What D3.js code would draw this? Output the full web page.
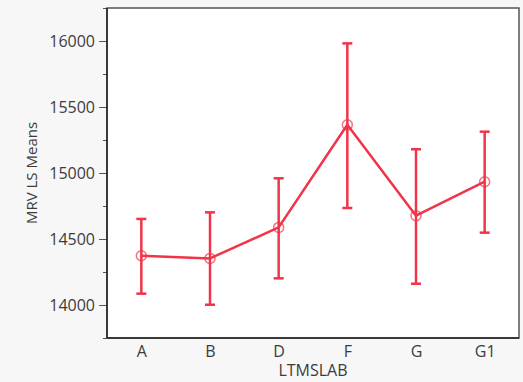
<!DOCTYPE html>
<html><head><meta charset="utf-8">
<script src="https://cdn.jsdelivr.net/npm/d3@7"></script>
<style>
html,body{margin:0;padding:0;background:#f7f7f7;}
svg{display:block;}
text{font-family:"Open Sans",sans-serif;fill:#3c3c3c;}
</style></head>
<body>
<svg id="chart" width="523" height="382"></svg>
<script>
const categories = ["A","B","D","F","G","G1"];
const means = [14373, 14353, 14588, 15365, 14677, 14934];
const upper = [14652, 14702, 14960, 15982, 15180, 15313];
const lower = [14086, 14002, 14202, 14735, 14161, 14548];
const majorTicks = [14000, 14500, 15000, 15500, 16000];
const minorTicks = [13750, 14250, 14750, 15250, 15750, 16250];

const svg = d3.select("#chart");
const L = 107, R = 519, T = 8, B = 338;
const red = "#f03449";

const x = d3.scalePoint().domain(categories).range([L, R]).padding(0.5);
const y = d3.scaleLinear().domain([13750, 16250]).range([B, T]);

svg.append("rect").attr("x", L).attr("y", T).attr("width", R - L).attr("height", B - T)
  .attr("fill", "#fff").attr("stroke", "#555").attr("stroke-width", 1.5);

// y axis
const yAxis = d3.axisLeft(y).tickValues(majorTicks).tickSize(8).tickPadding(4).tickFormat(d3.format("d"));
const gy = svg.append("g").attr("transform", `translate(${L},0)`).call(yAxis);
gy.select(".domain").remove();
gy.selectAll("line").attr("stroke", "#555");
gy.selectAll("text").style("font-size", "16px").attr("fill", "#3c3c3c");
const gym = svg.append("g").attr("transform", `translate(${L},0)`)
  .call(d3.axisLeft(y).tickValues(minorTicks).tickSize(4).tickFormat(""));
gym.select(".domain").remove();
gym.selectAll("line").attr("stroke", "#555");

// x axis
const gx = svg.append("g").attr("transform", `translate(0,${B})`)
  .call(d3.axisBottom(x).tickSize(0).tickPadding(8));
gx.select(".domain").remove();
gx.selectAll("text").style("font-size", "16px").attr("fill", "#3c3c3c");

// frame left/bottom darker
svg.append("line").attr("x1", L).attr("x2", L).attr("y1", T).attr("y2", B).attr("stroke", "#222").attr("stroke-width", 1.5);
svg.append("line").attr("x1", L).attr("x2", R).attr("y1", B).attr("y2", B).attr("stroke", "#222").attr("stroke-width", 1.5);

// titles
svg.append("text").attr("x", (L + R) / 2).attr("y", 376).attr("text-anchor", "middle")
  .style("font-size", "16px").text("LTMSLAB");
svg.append("text").attr("transform", `translate(37,${(T + B) / 2}) rotate(-90)`).attr("text-anchor", "middle")
  .style("font-size", "15px").text("MRV LS Means");

// error bars
const data = categories.map((c, i) => ({c, m: means[i], u: upper[i], l: lower[i]}));
const g = svg.append("g");
const cw = 5;
data.forEach(d => {
  const cx = x(d.c);
  g.append("line").attr("x1", cx).attr("x2", cx).attr("y1", y(d.u)).attr("y2", y(d.l))
    .attr("stroke", red).attr("stroke-width", 2.5);
  [d.u, d.l].forEach(v => g.append("line").attr("x1", cx - cw).attr("x2", cx + cw)
    .attr("y1", y(v)).attr("y2", y(v)).attr("stroke", red).attr("stroke-width", 2.5));
});

// mean line
g.append("path").datum(data)
  .attr("d", d3.line().x(d => x(d.c)).y(d => y(d.m)))
  .attr("fill", "none").attr("stroke", red).attr("stroke-width", 2.5).attr("stroke-linejoin", "round");

g.selectAll("circle").data(data).join("circle")
  .attr("cx", d => x(d.c)).attr("cy", d => y(d.m)).attr("r", 5)
  .attr("fill", "none").attr("stroke", red).attr("stroke-opacity", 0.7).attr("stroke-width", 1.5);
</script>
</body></html>
